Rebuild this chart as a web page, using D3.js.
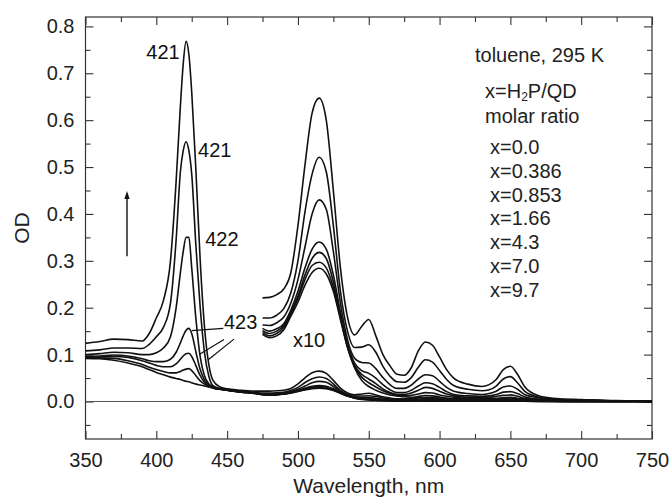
<!DOCTYPE html>
<html>
<head>
<meta charset="utf-8">
<script src="https://cdn.jsdelivr.net/npm/d3@7"></script>
<style>
  html, body { margin: 0; padding: 0; background: #fff; overflow: hidden; }
  svg { display: block; font-family: "Liberation Sans", Arial, sans-serif; }
</style>
</head>
<body>
<div id="chart"></div>
<script>
// Wavelength grid, nm
const wavelengths = [
  350, 360, 370, 380, 390, 395, 400, 405, 410, 414,
  417, 419, 421, 423, 425, 428, 431, 434, 437, 440,
  445, 450, 460, 470, 475, 480, 485, 490, 495, 500,
  505, 510, 515, 520, 525, 530, 535, 540, 545, 550,
  555, 560, 565, 570, 575, 580, 585, 590, 595, 600,
  605, 610, 620, 630, 635, 640, 645, 650, 655, 660,
  670, 680, 700, 725, 750,
];

// OD spectra, one per H2P/QD molar ratio
const odX00 = [
  0.092, 0.091, 0.088, 0.082, 0.074, 0.068, 0.062, 0.057, 0.052, 0.049,
  0.047, 0.045, 0.043, 0.042, 0.040, 0.037, 0.035, 0.033, 0.031, 0.029,
  0.026, 0.024, 0.020, 0.017, 0.0143, 0.0136, 0.0140, 0.0153, 0.0182, 0.0212,
  0.0248, 0.0275, 0.0284, 0.0272, 0.0235, 0.0175, 0.0115, 0.0072, 0.0045, 0.0032,
  0.0024, 0.0018, 0.0014, 0.0012, 0.0010, 0.0009, 0.0009, 0.0008, 0.0008, 0.0007,
  0.0007, 0.0006, 0.0006, 0.0005, 0.0005, 0.0005, 0.0005, 0.0004, 0.0004, 0.0004,
  0.0003, 0.0003, 0.0002, 0.0001, 0,
];
const odX0386 = [
  0.093, 0.093, 0.092, 0.087, 0.079, 0.073, 0.068, 0.064, 0.061, 0.061,
  0.064, 0.067, 0.069, 0.070, 0.066, 0.055, 0.044, 0.037, 0.032, 0.029,
  0.026, 0.024, 0.020, 0.017, 0.0147, 0.0140, 0.0145, 0.0158, 0.0187, 0.0220,
  0.0260, 0.0290, 0.0297, 0.0285, 0.0243, 0.0178, 0.0116, 0.0074, 0.0052, 0.0040,
  0.0031, 0.0023, 0.0017, 0.0013, 0.0012, 0.0013, 0.0016, 0.0019, 0.0018, 0.0014,
  0.0011, 0.0009, 0.0007, 0.0006, 0.0006, 0.0007, 0.0008, 0.0009, 0.0007, 0.0005,
  0.0003, 0.0003, 0.0002, 0.0001, 0,
];
const odX0853 = [
  0.094, 0.095, 0.096, 0.094, 0.087, 0.082, 0.077, 0.074, 0.074, 0.080,
  0.090, 0.097, 0.102, 0.103, 0.096, 0.076, 0.055, 0.041, 0.034, 0.029,
  0.026, 0.024, 0.020, 0.017, 0.0151, 0.0145, 0.0150, 0.0162, 0.0190, 0.0225,
  0.0270, 0.0305, 0.0318, 0.0305, 0.0255, 0.0183, 0.0118, 0.0077, 0.0058, 0.0048,
  0.0038, 0.0027, 0.0019, 0.0015, 0.0015, 0.0018, 0.0024, 0.0030, 0.0028, 0.0022,
  0.0016, 0.0012, 0.0009, 0.0008, 0.0009, 0.0011, 0.0013, 0.0014, 0.0011, 0.0007,
  0.0004, 0.0003, 0.0002, 0.0001, 0,
];
const odX166 = [
  0.096, 0.097, 0.099, 0.097, 0.091, 0.087, 0.085, 0.085, 0.090, 0.105,
  0.125, 0.140, 0.152, 0.156, 0.145, 0.105, 0.068, 0.046, 0.036, 0.030,
  0.026, 0.024, 0.021, 0.018, 0.0156, 0.0150, 0.0155, 0.0166, 0.0195, 0.0235,
  0.0285, 0.0325, 0.0340, 0.0325, 0.0270, 0.0190, 0.0122, 0.0082, 0.0066, 0.0060,
  0.0050, 0.0036, 0.0025, 0.0019, 0.0019, 0.0024, 0.0033, 0.0040, 0.0038, 0.0030,
  0.0021, 0.0015, 0.0012, 0.0011, 0.0012, 0.0015, 0.0020, 0.0021, 0.0017, 0.0010,
  0.0005, 0.0004, 0.0002, 0.0001, 0,
];
const odX43 = [
  0.100, 0.102, 0.105, 0.104, 0.100, 0.100, 0.104, 0.114, 0.138, 0.200,
  0.275, 0.320, 0.350, 0.350, 0.285, 0.175, 0.095, 0.055, 0.038, 0.031,
  0.027, 0.024, 0.021, 0.018, 0.0163, 0.0162, 0.0168, 0.0180, 0.0210, 0.0260,
  0.0330, 0.0400, 0.0430, 0.0410, 0.0320, 0.0210, 0.0132, 0.0092, 0.0083, 0.0082,
  0.0070, 0.0051, 0.0036, 0.0028, 0.0028, 0.0035, 0.0048, 0.0057, 0.0055, 0.0043,
  0.0030, 0.0022, 0.0017, 0.0015, 0.0017, 0.0022, 0.0031, 0.0033, 0.0026, 0.0015,
  0.0008, 0.0005, 0.0003, 0.0001, 0,
];
const odX70 = [
  0.108, 0.110, 0.114, 0.114, 0.113, 0.122, 0.138, 0.158, 0.210, 0.345,
  0.490, 0.535, 0.554, 0.535, 0.485, 0.330, 0.200, 0.105, 0.055, 0.034,
  0.028, 0.025, 0.022, 0.019, 0.0178, 0.0178, 0.0184, 0.0198, 0.0232, 0.0300,
  0.0405, 0.0485, 0.0521, 0.0490, 0.0375, 0.0235, 0.0150, 0.0115, 0.0116, 0.0121,
  0.0105, 0.0075, 0.0054, 0.0042, 0.0041, 0.0051, 0.0073, 0.0089, 0.0084, 0.0066,
  0.0047, 0.0034, 0.0026, 0.0023, 0.0025, 0.0033, 0.0048, 0.0053, 0.0040, 0.0022,
  0.0009, 0.0005, 0.0003, 0.0001, 0,
];
const odX97 = [
  0.124, 0.128, 0.133, 0.132, 0.129, 0.145, 0.178, 0.215, 0.300, 0.470,
  0.630, 0.720, 0.768, 0.740, 0.660, 0.490, 0.300, 0.160, 0.080, 0.045,
  0.031, 0.027, 0.024, 0.022, 0.0221, 0.0222, 0.0228, 0.0240, 0.0275, 0.0375,
  0.0505, 0.0615, 0.0647, 0.0600, 0.0450, 0.0285, 0.0180, 0.0142, 0.0160, 0.0175,
  0.0140, 0.0100, 0.0076, 0.0058, 0.0056, 0.0072, 0.0108, 0.0127, 0.0120, 0.0095,
  0.0068, 0.0050, 0.0037, 0.0032, 0.0036, 0.0047, 0.0068, 0.0075, 0.0058, 0.0032,
  0.0012, 0.0007, 0.0004, 0.0002, 0,
];

const ratioLabels = ['x=0.0', 'x=0.386', 'x=0.853', 'x=1.66', 'x=4.3', 'x=7.0', 'x=9.7'];
const spectra = [odX00, odX0386, odX0853, odX166, odX43, odX70, odX97];

// Soret peak labels (nm), tied to the x=9.7, 7.0, 4.3 and 1.66 curves
const peakLabels = ['421', '421', '422', '423'];

const xTicks = [350, 400, 450, 500, 550, 600, 650, 700, 750];
const xMinorTicks = [375, 425, 475, 525, 575, 625, 675, 725];
const yTicks = [0, 0.1, 0.2, 0.3, 0.4, 0.5, 0.6, 0.7, 0.8];
const yMinorTicks = [-0.05, 0.05, 0.15, 0.25, 0.35, 0.45, 0.55, 0.65, 0.75];

// the long-wavelength part is repeated magnified
const magnify = 10;
const magnifyFrom = 475;

const width = 672;
const height = 500;
const margin = { top: 17, right: 20, bottom: 61, left: 85.5 };
const innerWidth = width - margin.left - margin.right;
const innerHeight = height - margin.top - margin.bottom;

const svg = d3
  .select('#chart')
  .append('svg')
  .attr('width', width)
  .attr('height', height);

const plot = svg
  .append('g')
  .attr('transform', `translate(${margin.left}, ${margin.top})`);

const x = d3.scaleLinear().domain([350, 750]).range([0, innerWidth]);
const y = d3.scaleLinear().domain([-0.08, 0.82]).range([innerHeight, 0]);

const fontSize = 20;

// Axes: ticks point inwards on all four sides
function styleAxis(g) {
  g.select('.domain').remove();
  g.selectAll('line').attr('stroke', '#333').attr('stroke-width', 1.1);
  g.selectAll('text')
    .attr('font-size', fontSize)
    .attr('fill', '#222');
}

// only the labelled axes get text; the others are bare tick marks
function ticksOnly(axis, values, size) {
  return (g) => {
    g.call(axis.tickValues(values).tickSize(size).tickFormat(''));
    g.selectAll('text').remove();
    styleAxis(g);
  };
}

plot
  .append('g')
  .attr('transform', `translate(0, ${innerHeight})`)
  .call(d3.axisBottom(x).tickValues(xTicks).tickSize(-8).tickPadding(14).tickFormat(d3.format('d')))
  .call(styleAxis);
plot
  .append('g')
  .attr('transform', `translate(0, ${innerHeight})`)
  .call(ticksOnly(d3.axisBottom(x), xMinorTicks, -5));
plot.append('g').call(ticksOnly(d3.axisTop(x), xTicks, -8));
plot.append('g').call(ticksOnly(d3.axisTop(x), xMinorTicks, -5));

plot
  .append('g')
  .call(d3.axisLeft(y).tickValues(yTicks).tickSize(-8).tickPadding(11).tickFormat(d3.format('.1f')))
  .call(styleAxis);
plot.append('g').call(ticksOnly(d3.axisLeft(y), yMinorTicks, -5));
plot
  .append('g')
  .attr('transform', `translate(${innerWidth}, 0)`)
  .call(ticksOnly(d3.axisRight(y), yTicks, -8));
plot
  .append('g')
  .attr('transform', `translate(${innerWidth}, 0)`)
  .call(ticksOnly(d3.axisRight(y), yMinorTicks, -5));

// frame
plot
  .append('rect')
  .attr('width', innerWidth)
  .attr('height', innerHeight)
  .attr('fill', 'none')
  .attr('stroke', '#333')
  .attr('stroke-width', 1.2);

// zero line
plot
  .append('line')
  .attr('x1', 0)
  .attr('x2', innerWidth)
  .attr('y1', y(0))
  .attr('y2', y(0))
  .attr('stroke', '#555')
  .attr('stroke-width', 1);

// Spectra
const line = d3
  .line()
  .x((d) => x(d[0]))
  .y((d) => y(d[1]))
  .curve(d3.curveMonotoneX);

const curves = plot.append('g').attr('fill', 'none').attr('stroke', '#111');

spectra.forEach((od) => {
  const pts = wavelengths.map((w, i) => [w, od[i]]);
  curves
    .append('path')
    .attr('d', line(pts))
    .attr('stroke-width', 1.6);

  const magPts = pts
    .filter((d) => d[0] >= magnifyFrom)
    .map((d) => [d[0], d[1] * magnify]);
  curves
    .append('path')
    .attr('d', line(magPts))
    .attr('stroke-width', 1.6);
});

// Annotations
const notes = plot.append('g').attr('font-size', fontSize).attr('fill', '#111');

notes.append('text')
  .attr('x', x(416.5)).attr('y', y(0.745)).attr('dy', '0.35em')
  .attr('text-anchor', 'end').text(peakLabels[0]);
notes.append('text')
  .attr('x', x(429.5)).attr('y', y(0.537)).attr('dy', '0.35em')
  .text(peakLabels[1]);
notes.append('text')
  .attr('x', x(434.5)).attr('y', y(0.347)).attr('dy', '0.35em')
  .text(peakLabels[2]);
notes.append('text')
  .attr('x', x(447.8)).attr('y', y(0.17)).attr('dy', '0.35em')
  .text(peakLabels[3]);
notes.append('text')
  .attr('x', x(496.5)).attr('y', y(0.132)).attr('dy', '0.35em')
  .text('x' + magnify);

// leader lines from the "423" label to the small Soret peaks
const leaders = [
  [[425, 0.151], [447.3, 0.156]],
  [[430.3, 0.1], [447.8, 0.132]],
  [[436.7, 0.089], [454.8, 0.133]],
];
leaders.forEach((seg) => {
  plot.append('line')
    .attr('x1', x(seg[0][0])).attr('y1', y(seg[0][1]))
    .attr('x2', x(seg[1][0])).attr('y2', y(seg[1][1]))
    .attr('stroke', '#111')
    .attr('stroke-width', 1.2);
});

// arrow: growth with x
const arrowX = x(379.3);
plot.append('line')
  .attr('x1', arrowX).attr('x2', arrowX)
  .attr('y1', y(0.31)).attr('y2', y(0.44))
  .attr('stroke', '#111')
  .attr('stroke-width', 1.4);
plot.append('path')
  .attr('d', `M${arrowX},${y(0.449)} l-2.6,8 l5.2,0 z`)
  .attr('fill', '#111');

// Legend text
const legend = svg.append('g').attr('font-size', fontSize).attr('fill', '#222');
legend.append('text').attr('x', 475).attr('y', 62).text('toluene, 295 K');
const formula = legend.append('text').attr('x', 485).attr('y', 98);
formula.append('tspan').text('x=H');
formula.append('tspan').attr('font-size', 12).attr('baseline-shift', '-25%').text('2');
formula.append('tspan').text('P/QD');
legend.append('text').attr('x', 485).attr('y', 122.5).text('molar ratio');
legend
  .selectAll('.ratio')
  .data(ratioLabels)
  .enter()
  .append('text')
  .attr('class', 'ratio')
  .attr('x', 490)
  .attr('y', (d, i) => 154 + i * 23.8)
  .text((d) => d);

// Axis titles
svg.append('text')
  .attr('x', margin.left + innerWidth / 2)
  .attr('y', 493)
  .attr('text-anchor', 'middle')
  .attr('font-size', 21)
  .attr('fill', '#222')
  .text('Wavelength, nm');

svg.append('text')
  .attr('transform', `translate(29, ${margin.top + innerHeight / 2}) rotate(-90)`)
  .attr('text-anchor', 'middle')
  .attr('font-size', 21)
  .attr('fill', '#222')
  .text('OD');
</script>
</body>
</html>
